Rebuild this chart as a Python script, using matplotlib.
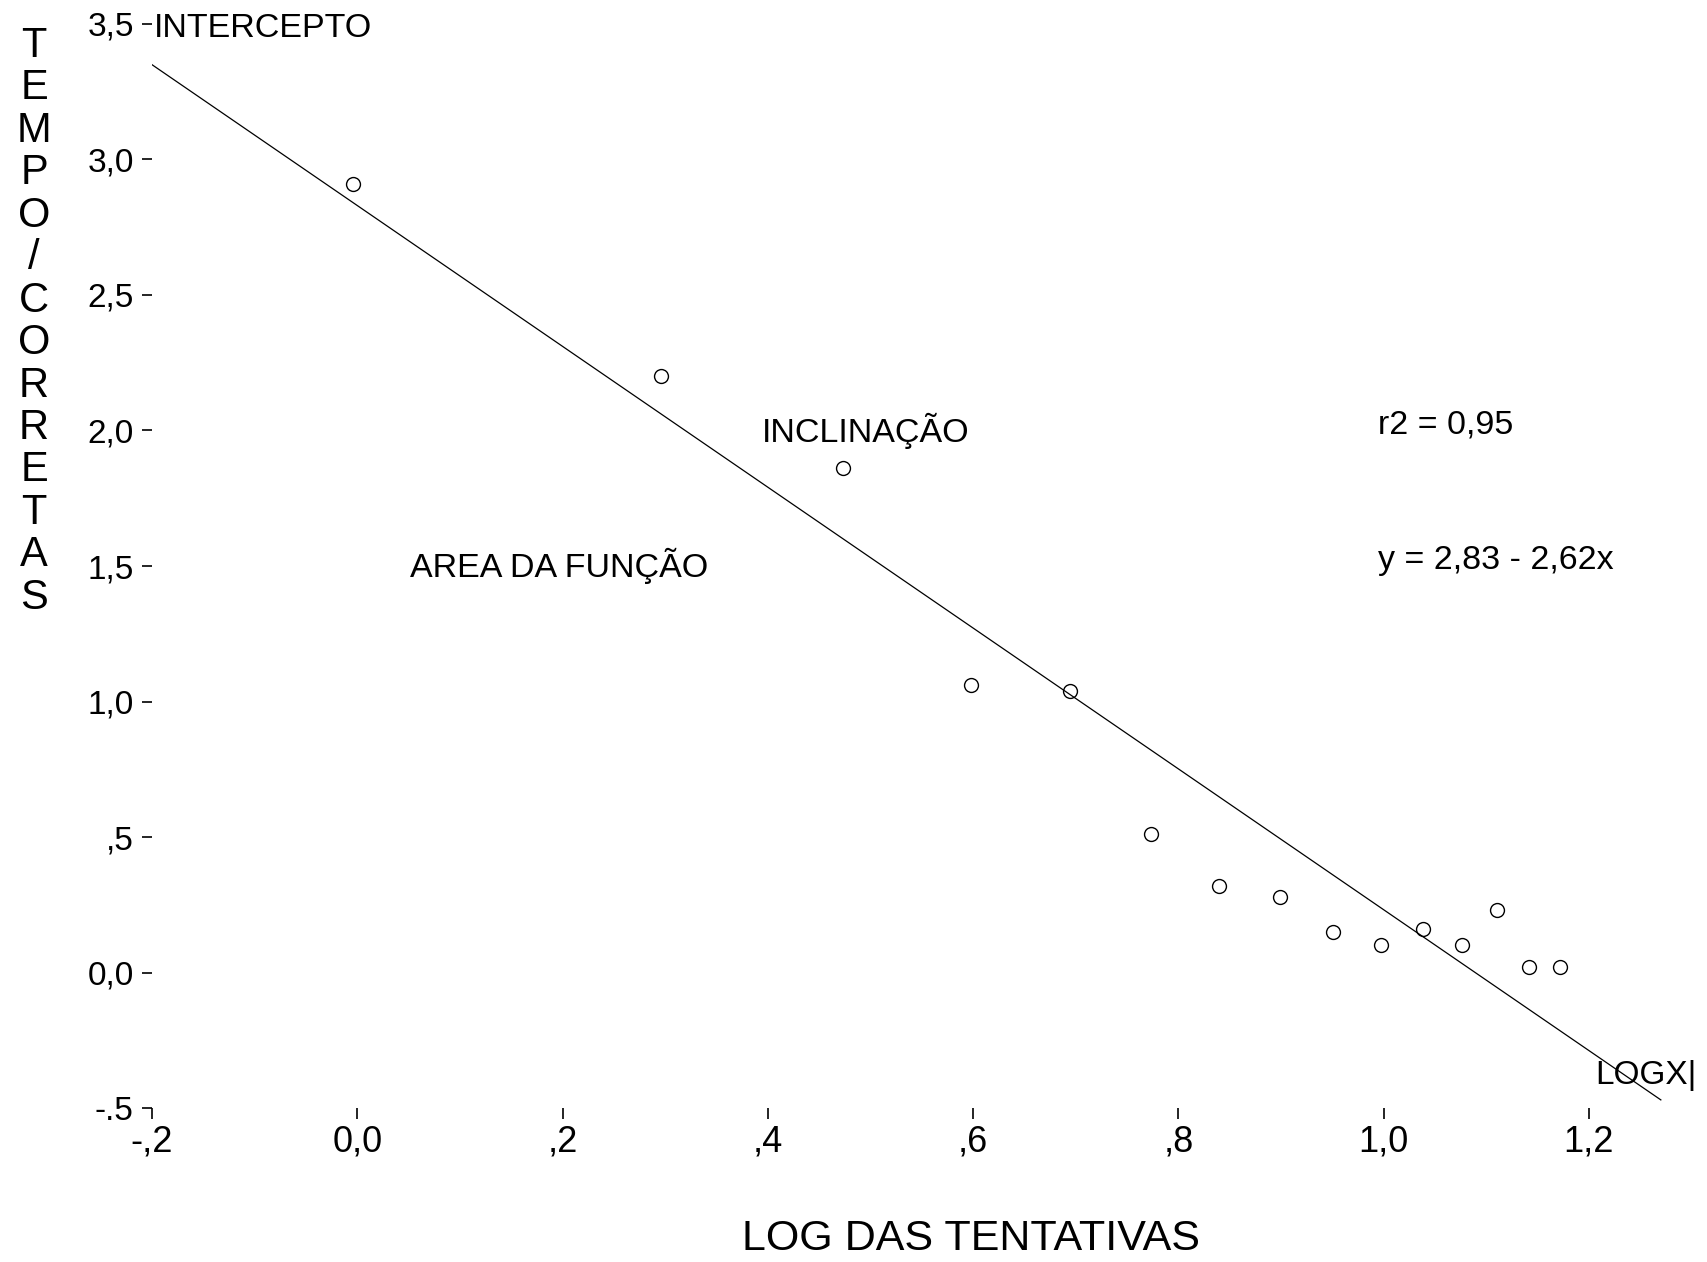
import matplotlib
matplotlib.use('Agg')
import matplotlib.pyplot as plt

# log of trial number and time / correct answers
log_trials = [-0.004, 0.296, 0.473, 0.598, 0.694, 0.773, 0.840, 0.899,
              0.951, 0.997, 1.038, 1.076, 1.110, 1.142, 1.172]
tempo = [2.91, 2.20, 1.86, 1.06, 1.04, 0.51, 0.32, 0.28,
         0.15, 0.10, 0.16, 0.10, 0.23, 0.02, 0.02]

# fitted line endpoints, y = 2,83 - 2,62x
fit_x = [-0.2, 1.27]
fit_y = [3.35, -0.47]

xticks = [-0.2, 0.0, 0.2, 0.4, 0.6, 0.8, 1.0, 1.2]
xticklabels = ['-,2', '0,0', ',2', ',4', ',6', ',8', '1,0', '1,2']
yticks = [-0.5, 0.0, 0.5, 1.0, 1.5, 2.0, 2.5, 3.0, 3.5]
yticklabels = ['-.5', '0,0', ',5', '1,0', '1,5', '2,0', '2,5', '3,0', '3,5']

plt.rcParams['font.family'] = ['Liberation Sans', 'DejaVu Sans']

fig = plt.figure(figsize=(17.07, 12.62), dpi=100)
ax = fig.add_axes([0.089, 0.122, 0.902, 0.859])

ax.plot(fit_x, fit_y, color='black', lw=0.9)
ax.plot(log_trials, tempo, 'o', mfc='none', mec='black', ms=10, mew=1.0)

ax.set_xlim(-0.2, 1.3)
ax.set_ylim(-0.5, 3.5)
for s in ax.spines.values():
    s.set_visible(False)

ax.set_xticks(xticks)
ax.set_xticklabels(xticklabels, fontsize=26)
ax.set_yticks(yticks)
ax.set_yticklabels(yticklabels, fontsize=24)
ax.tick_params(axis='x', direction='out', length=8, width=1.2, pad=4)
ax.tick_params(axis='y', direction='out', length=7, width=1.2, pad=6)

ax.text(-0.198, 3.485, 'INTERCEPTO', fontsize=24.5, ha='left', va='center')
ax.text(0.394, 2.0, 'INCLINAÇÃO', fontsize=24.5, ha='left', va='center')
ax.text(0.051, 1.5, 'AREA DA FUNÇÃO', fontsize=24.5, ha='left', va='center')
ax.text(0.994, 2.02, 'r2 = 0,95', fontsize=24.5, ha='left', va='center')
ax.text(0.994, 1.52, 'y = 2,83 - 2,62x', fontsize=24.5, ha='left', va='center')
ax.text(1.206, -0.38, 'LOGX|', fontsize=24, ha='left', va='center')

fig.text(0.02, 0.745, '\n'.join('TEMPO/CORRETAS'), fontsize=30,
         ha='center', va='center', linespacing=1.08)
fig.text(0.569, 0.018, 'LOG DAS TENTATIVAS', fontsize=31,
         ha='center', va='center')

fig.savefig('out.png', dpi=100, facecolor='white')
